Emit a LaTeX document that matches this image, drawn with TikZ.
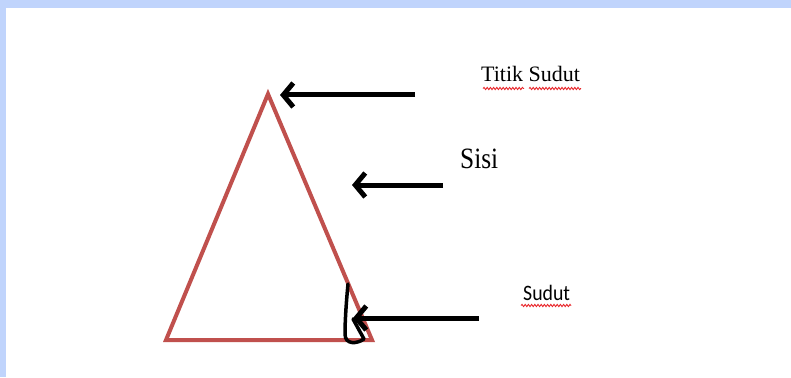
\documentclass[tikz,border=0pt]{standalone}
\usepackage{fontspec}
\setmainfont{Liberation Serif}
\newfontfamily\calib{Carlito}
\usetikzlibrary{arrows.meta,decorations.pathmorphing}
\definecolor{band}{HTML}{C0D4FC}
\definecolor{trired}{HTML}{C0504D}
\definecolor{squig}{HTML}{E8262A}
\tikzset{
  pointer/.style={line width=5pt, -{Straight Barb[length=10pt,width=24pt]}},
  squiggle/.style={squig, line width=0.9pt, decorate, decoration={snake, amplitude=1.1pt, segment length=3.2pt}},
  lbl/.style={inner sep=0pt, anchor=base west}
}
\begin{document}
\begin{tikzpicture}[x=1pt,y=-1pt]
\useasboundingbox (0,0) rectangle (791,377);
\fill[white] (0,0) rectangle (791,377);
\fill[band] (0,0) rectangle (791,8);
\fill[band] (0,0) rectangle (6,377);
% triangle
\coordinate (A) at (268,94);
\coordinate (B) at (166,340);
\coordinate (C) at (372,340);
\draw[trired, line width=4pt, line join=miter] (A) -- (B) -- (C) -- cycle;
% angle mark
\draw[black, line width=3.5pt, line cap=round, line join=round]
  (348,284) .. controls (346,305) and (345,322) .. (345,334)
  .. controls (345,345) and (357,344) .. (364,339) -- (353,319);
% arrow endpoints
\coordinate (t1) at (415,95);
\coordinate (h1) at (280,95);
\coordinate (t2) at (443,185);
\coordinate (h2) at (352,185);
\coordinate (t3) at (479,318);
\coordinate (h3) at (353,318);
\draw[pointer] (t1) -- (h1);
\draw[pointer] (t2) -- (h2);
\draw[pointer] (t3) -- (h3);
% labels
\node[lbl, font=\fontsize{22}{26}\selectfont] (ts) at (481,82) {Titik Sudut};
\node[lbl, font=\fontsize{29.5}{34}\selectfont] (sisi) at (460,168) {\scalebox{0.86}[1]{Sisi}};
\node[lbl, font=\calib\fontsize{22}{26}\selectfont] (sd) at (523,300) {\scalebox{0.9}[1]{Sudut}};
% spell-check underlines
\draw[squiggle] (483,88.5) -- (524,88.5);
\draw[squiggle] (529,88.5) -- (581,88.5);
\draw[squiggle] (521,305.5) -- (571,305.5);
\end{tikzpicture}
\end{document}
